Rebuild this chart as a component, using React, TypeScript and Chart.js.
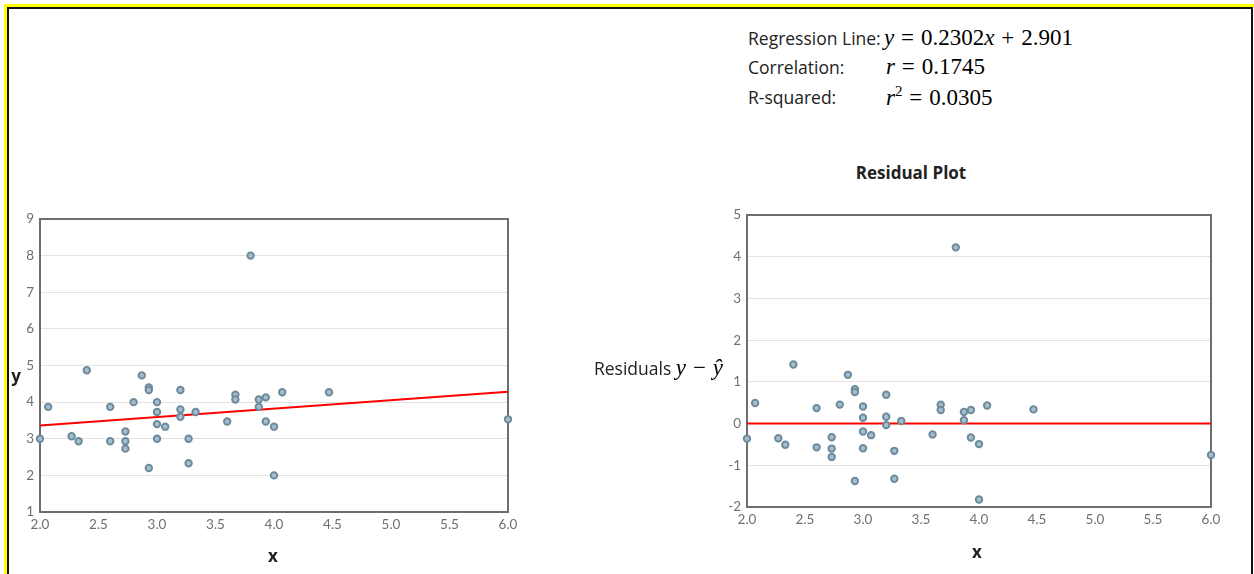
import React, { useEffect, useRef } from "react";
import { Chart, registerables } from "chart.js";

Chart.register(...registerables);

// ---- data ----
const xValues = [
  2.0, 2.07, 2.27, 2.33, 2.4, 2.6, 2.6, 2.73, 2.73, 2.73, 2.8, 2.87, 2.93, 2.93, 2.93,
  3.0, 3.0, 3.0, 3.0, 3.07, 3.2, 3.2, 3.2, 3.27, 3.27, 3.33, 3.6, 3.67, 3.67, 3.8,
  3.87, 3.87, 3.93, 3.93, 4.0, 4.0, 4.07, 4.47, 6.0,
];
const yValues = [
  3.0, 3.87, 3.07, 2.93, 4.87, 3.87, 2.93, 3.2, 2.93, 2.73, 4.0, 4.73, 4.4, 4.33, 2.2,
  4.0, 3.73, 3.4, 3.0, 3.33, 4.33, 3.8, 3.6, 3.0, 2.33, 3.73, 3.47, 4.2, 4.07, 8.0,
  4.07, 3.87, 4.13, 3.47, 3.33, 2.0, 4.27, 4.27, 3.53,
];
const SLOPE = 0.2302;
const INTERCEPT = 2.901;
const CORRELATION = 0.1745;
const R_SQUARED = 0.0305;

const X_MIN = 2;
const X_MAX = 6;
const X_STEP = 0.5;
const Y_MIN_LEFT = 1;
const Y_MAX_LEFT = 9;
const Y_MIN_RES = -2;
const Y_MAX_RES = 5;

const LABEL_FONT = "'Open Sans', Lato, sans-serif";
const TICK_FONT = "Lato, 'Open Sans', sans-serif";
const MATH_FONT = "'Liberation Serif', 'DejaVu Serif', serif";

const POINT_FILL = "#a3c0d1";
const POINT_STROKE = "#6f8a9b";
const TICK_COLOR = "#707070";

const plotBorder = {
  id: "plotBorder",
  beforeDatasetsDraw(chart: any) {
    const { ctx, chartArea: a } = chart;
    ctx.save();
    ctx.strokeStyle = "#6e6e6e";
    ctx.lineWidth = 2;
    ctx.strokeRect(a.left, a.top, a.right - a.left, a.bottom - a.top);
    ctx.restore();
  },
};

function makeScales(yMin: number, yMax: number) {
  return {
    x: {
      type: "linear" as const,
      min: X_MIN,
      max: X_MAX,
      ticks: {
        stepSize: X_STEP,
        callback: (v: any) => Number(v).toFixed(1),
        color: TICK_COLOR,
        font: { family: TICK_FONT, size: 13.5 },
        padding: 5,
        maxRotation: 0,
      },
      grid: { display: false, drawTicks: false },
      border: { display: false },
      afterFit: (s: any) => {
        s.height = 48;
      },
    },
    y: {
      type: "linear" as const,
      min: yMin,
      max: yMax,
      ticks: {
        stepSize: 1,
        color: TICK_COLOR,
        font: { family: TICK_FONT, size: 13.5 },
        padding: 6,
      },
      grid: { color: "#e3e3e3", lineWidth: 1, drawTicks: false },
      border: { display: false },
      afterFit: (s: any) => {
        s.width = 40;
      },
    },
  };
}

function ScatterCanvas(props: {
  points: { x: number; y: number }[];
  line: { x: number; y: number }[];
  yMin: number;
  yMax: number;
  padding: { left: number; right: number; top: number; bottom: number };
  style: React.CSSProperties;
  width: number;
  height: number;
}) {
  const ref = useRef<HTMLCanvasElement | null>(null);
  useEffect(() => {
    if (!ref.current) return;
    const chart = new Chart(ref.current, {
      type: "scatter",
      data: {
        datasets: [
          {
            type: "scatter",
            data: props.points,
            pointRadius: 3.2,
            pointBorderWidth: 2,
            backgroundColor: POINT_FILL,
            borderColor: POINT_STROKE,
            clip: false as any,
          },
          {
            type: "line",
            data: props.line,
            borderColor: "#ff0000",
            borderWidth: 2,
            pointRadius: 0,
            fill: false,
          },
        ],
      } as any,
      options: {
        animation: false,
        responsive: false,
        maintainAspectRatio: false,
        layout: { padding: props.padding },
        plugins: {
          legend: { display: false },
          tooltip: { enabled: false },
          title: { display: false },
        },
        scales: makeScales(props.yMin, props.yMax) as any,
      },
      plugins: [plotBorder],
    });
    return () => chart.destroy();
  }, []);
  return (
    <canvas
      ref={ref}
      width={props.width}
      height={props.height}
      style={{ position: "absolute", width: props.width, height: props.height, ...props.style }}
    />
  );
}

const centered = (x: number, y: number): React.CSSProperties => ({
  position: "absolute",
  left: x,
  top: y,
  transform: "translate(-50%, -50%)",
  whiteSpace: "nowrap",
});

const Op = (p: { c: string }) => <span style={{ margin: "0 0.3em" }}>{p.c}</span>;

export default function App() {
  const points = xValues.map((x, i) => ({ x, y: yValues[i] }));
  const residuals = xValues.map((x, i) => ({ x, y: yValues[i] - (SLOPE * x + INTERCEPT) }));
  const regLine = [
    { x: X_MIN, y: SLOPE * X_MIN + INTERCEPT },
    { x: X_MAX, y: SLOPE * X_MAX + INTERCEPT },
  ];
  const zeroLine = [
    { x: X_MIN, y: 0 },
    { x: X_MAX, y: 0 },
  ];

  const labelStyle: React.CSSProperties = {
    fontFamily: LABEL_FONT,
    fontSize: 17.5,
    color: "#222",
  };
  const mathStyle: React.CSSProperties = {
    fontFamily: MATH_FONT,
    fontSize: 23,
    color: "#000",
    whiteSpace: "nowrap",
  };
  const boldLabel: React.CSSProperties = {
    fontFamily: LABEL_FONT,
    fontWeight: 700,
    fontSize: 17,
    color: "#222",
  };

  return (
    <div
      style={{
        position: "absolute",
        left: 0,
        top: 0,
        width: 1254,
        height: 574,
        overflow: "hidden",
        background: "#fff",
      }}
    >
      <div
        style={{
          position: "absolute",
          left: 4,
          top: 4,
          width: 1260,
          height: 600,
          border: "3px solid #ffff00",
        }}
      />
      <div
        style={{
          position: "absolute",
          left: 7,
          top: 7,
          width: 1242,
          height: 600,
          border: "2px solid #111",
        }}
      />

      {/* statistics */}
      <div style={{ ...labelStyle, position: "absolute", left: 748, top: 38, transform: "translateY(-50%)" }}>
        Regression Line:
      </div>
      <div style={{ ...mathStyle, position: "absolute", left: 884, top: 38, transform: "translateY(-50%)" }}>
        <i>y</i>
        <Op c="=" />
        {SLOPE.toFixed(4)}
        <i>x</i>
        <Op c="+" />
        {INTERCEPT.toFixed(3)}
      </div>
      <div style={{ ...labelStyle, position: "absolute", left: 748, top: 67, transform: "translateY(-50%)" }}>
        Correlation:
      </div>
      <div style={{ ...mathStyle, position: "absolute", left: 886, top: 67, transform: "translateY(-50%)" }}>
        <i>r</i>
        <Op c="=" />
        {CORRELATION.toFixed(4)}
      </div>
      <div style={{ ...labelStyle, position: "absolute", left: 748, top: 97, transform: "translateY(-50%)" }}>
        R-squared:
      </div>
      <div style={{ ...mathStyle, position: "absolute", left: 886, top: 97, transform: "translateY(-50%)" }}>
        <i>r</i>
        <sup style={{ fontSize: 15 }}>2</sup>
        <Op c="=" />
        {R_SQUARED.toFixed(4)}
      </div>

      {/* left scatter chart */}
      <ScatterCanvas
        points={points}
        line={regLine}
        yMin={Y_MIN_LEFT}
        yMax={Y_MAX_LEFT}
        padding={{ left: 0, right: 22, top: 19, bottom: 0 }}
        width={530}
        height={360}
        style={{ left: 0, top: 200 }}
      />
      <div style={{ ...centered(16, 375), ...boldLabel }}>y</div>
      <div style={{ ...centered(273, 555), ...boldLabel }}>x</div>

      {/* residual chart */}
      <div style={{ ...centered(911, 172), ...boldLabel }}>Residual Plot</div>
      <ScatterCanvas
        points={residuals}
        line={zeroLine}
        yMin={Y_MIN_RES}
        yMax={Y_MAX_RES}
        padding={{ left: 127, right: 29, top: 20, bottom: 0 }}
        width={660}
        height={360}
        style={{ left: 580, top: 195 }}
      />
      <div
        style={{
          position: "absolute",
          right: 1254 - 723,
          top: 368,
          transform: "translateY(-50%)",
          whiteSpace: "nowrap",
          ...labelStyle,
        }}
      >
        Residuals{" "}
        <span style={{ fontFamily: MATH_FONT, fontSize: 23, color: "#000" }}>
          <i>y</i>
          <Op c="−" />
          <i>ŷ</i>
        </span>
      </div>
      <div style={{ ...centered(977, 551), ...boldLabel }}>x</div>
    </div>
  );
}
